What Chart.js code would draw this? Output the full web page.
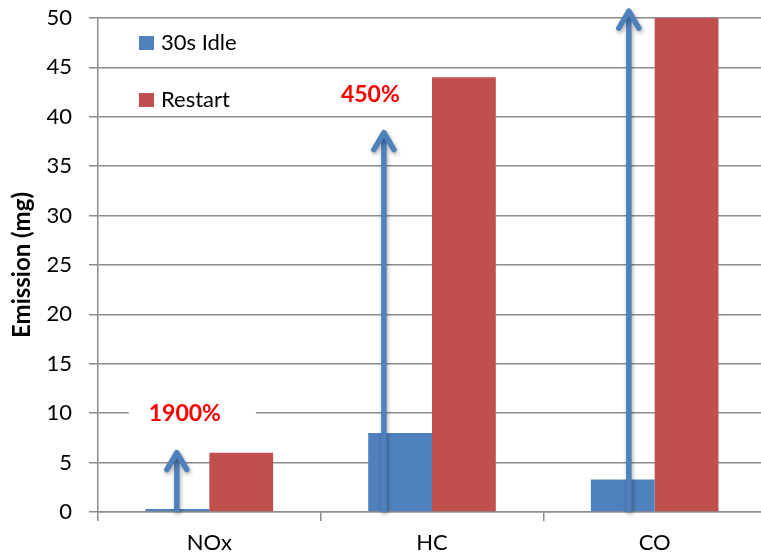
<!DOCTYPE html>
<html>
<head>
<meta charset="utf-8">
<script src="https://cdn.jsdelivr.net/npm/chart.js@4.4.1/dist/chart.umd.min.js"></script>
<style>
  html, body { margin: 0; padding: 0; background: #fff; overflow: hidden; }
  #wrap { width: 766px; height: 560px; }
</style>
</head>
<body>
<div id="wrap"><canvas id="c" width="766" height="560"></canvas></div>
<script>
// Emission per pollutant: 30 s idling vs. engine restart
const categories = ['NOx', 'HC', 'CO'];
const seriesNames = ['30s Idle', 'Restart'];
const idleValues = [0.3, 8, 3.3];
const restartValues = [6, 44, 50];
const yMin = 0, yMax = 50, yStep = 5;

// Increase arrows: position along the category axis (index) and tip value
const arrowPositions = [-0.146, 0.784, 1.884];
const arrowTips = [6, 38.4, 50.7];

// Percentage increase labels
const increaseLabels = ['1900%', '450%'];
const labelPositions = [-0.11, 0.723];
const labelValues = [10, 42.2];

const BLUE = '#4f81bd';
const RED = '#c0504d';
const GRID = '#8c8c8c';
const FONT = 'Lato';

const overlay = {
  id: 'overlay',
  beforeDatasetsDraw(chart) {
    // white backing behind the labels, hides the gridline underneath
    const { ctx, scales: { x, y } } = chart;
    ctx.save();
    ctx.font = 'bold 23px ' + FONT;
    increaseLabels.forEach((t, i) => {
      const px = x.getPixelForValue(labelPositions[i]);
      const py = y.getPixelForValue(labelValues[i]);
      const w = ctx.measureText(t).width;
      ctx.fillStyle = '#fff';
      ctx.fillRect(px - w / 2 - 20, py - 12, w + 55, 24);
    });
    ctx.restore();
  },
  afterDatasetsDraw(chart) {
    const { ctx, scales: { x, y } } = chart;
    ctx.save();
    ctx.strokeStyle = BLUE;
    ctx.lineWidth = 5.5;
    ctx.shadowColor = 'rgba(0,0,0,0.35)';
    ctx.shadowBlur = 4;
    ctx.shadowOffsetX = 1;
    ctx.shadowOffsetY = 2;
    arrowPositions.forEach((p, i) => {
      const px = x.getPixelForValue(p);
      const base = y.getPixelForValue(0);
      const tip = y.getPixelForValue(arrowTips[i]);
      ctx.lineCap = 'butt';
      ctx.beginPath();
      ctx.moveTo(px, base);
      ctx.lineTo(px, tip + 2);
      ctx.stroke();
      ctx.lineCap = 'round';
      ctx.lineJoin = 'round';
      ctx.beginPath();
      ctx.moveTo(px - 10, tip + 17);
      ctx.lineTo(px, tip);
      ctx.lineTo(px + 10, tip + 17);
      ctx.stroke();
    });
    ctx.restore();

    ctx.save();
    ctx.font = 'bold 23px ' + FONT;
    ctx.textAlign = 'center';
    ctx.textBaseline = 'middle';
    ctx.fillStyle = '#ff0000';
    increaseLabels.forEach((t, i) => {
      ctx.fillText(t, x.getPixelForValue(labelPositions[i]), y.getPixelForValue(labelValues[i]));
    });
    ctx.restore();
  },
  afterDraw(chart) {
    // legend inside the plot, top-left
    const { ctx, chartArea } = chart;
    ctx.save();
    ctx.font = '22px ' + FONT;
    ctx.textBaseline = 'middle';
    ctx.textAlign = 'left';
    chart.data.datasets.forEach((ds, i) => {
      const cy = chartArea.top + 25 + i * 57;
      const lx = chartArea.left + 41;
      ctx.fillStyle = ds.backgroundColor;
      ctx.fillRect(lx, cy - 7, 15, 14);
      ctx.fillStyle = '#000';
      ctx.fillText(ds.label, lx + 22, cy);
    });
    ctx.restore();
  }
};

new Chart(document.getElementById('c'), {
  type: 'bar',
  data: {
    labels: categories,
    datasets: [
      { label: seriesNames[0], data: idleValues, backgroundColor: BLUE },
      { label: seriesNames[1], data: restartValues, backgroundColor: RED }
    ]
  },
  options: {
    responsive: false,
    animation: false,
    layout: { padding: { top: 18, left: 0, right: 0, bottom: 0 } },
    datasets: { bar: { barPercentage: 1, categoryPercentage: 0.573 } },
    plugins: { legend: { display: false }, tooltip: { enabled: false } },
    scales: {
      x: {
        grid: { drawOnChartArea: false, drawTicks: true, tickLength: 9, color: GRID, lineWidth: 1.5, offset: true },
        border: { color: GRID, width: 1.5 },
        ticks: { color: '#000', font: { family: FONT, size: 22 }, padding: 9 },
        afterFit(s) { s.height = 48; s.paddingLeft = 0; s.paddingRight = 0; }
      },
      y: {
        min: yMin,
        max: yMax,
        ticks: { stepSize: yStep, color: '#000', font: { family: FONT, size: 22 }, padding: 17 },
        grid: { color: GRID, lineWidth: 1.5, tickLength: 9 },
        border: { color: GRID, width: 1.5 },
        title: {
          display: true,
          text: 'Emission (mg)',
          color: '#000',
          font: { family: FONT, size: 24, weight: 'bold' },
          padding: { top: 8, bottom: 0 }
        },
        afterFit(s) { s.width = 98; s.paddingTop = 0; s.paddingBottom = 0; }
      }
    }
  },
  plugins: [overlay]
});
</script>
</body>
</html>
